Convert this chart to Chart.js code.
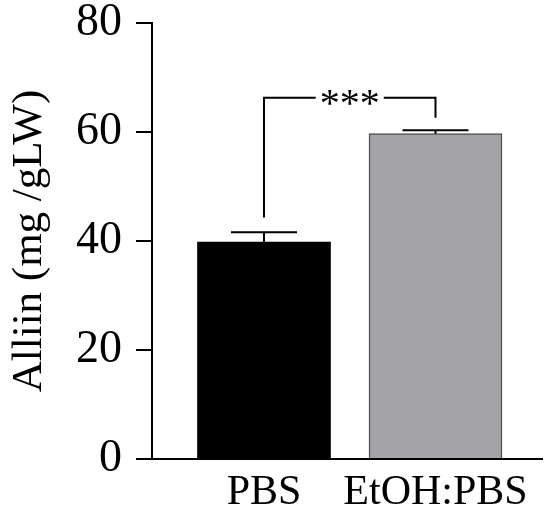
<!DOCTYPE html>
<html>
<head>
<meta charset="utf-8">
<script src="https://cdn.jsdelivr.net/npm/chart.js@4"></script>
<style>
  html, body { margin: 0; padding: 0; background: #fff; }
  #chartCanvas { display: block; }
</style>
</head>
<body>
<canvas id="chartCanvas" width="550" height="526"></canvas>
<script>
// data
const categories = ["PBS", "EtOH:PBS"];
const categoryPos = [1, 2];
const alliinMeans = [39.8, 59.7];
const alliinErrors = [1.8, 0.6];
const yTicks = [0, 20, 40, 60, 80];
const sigLabel = "***";
const sigLevels = [44.3, 66.3, 62.6]; // left foot, top line, right foot

const FONT = '"Liberation Serif", "Times New Roman", serif';

// error bars + significance bracket
const extrasPlugin = {
  id: "extras",
  afterDatasetsDraw(chart) {
    const ctx = chart.ctx;
    const x = chart.scales.x;
    const y = chart.scales.y;
    ctx.save();
    ctx.strokeStyle = "#000";
    ctx.lineWidth = 2;

    categoryPos.forEach((pos, i) => {
      const cx = x.getPixelForValue(pos);
      const top = y.getPixelForValue(alliinMeans[i]);
      const errTop = y.getPixelForValue(alliinMeans[i] + alliinErrors[i]);
      ctx.beginPath();
      ctx.moveTo(cx, top);
      ctx.lineTo(cx, errTop);
      ctx.moveTo(cx - 33, errTop);
      ctx.lineTo(cx + 33, errTop);
      ctx.stroke();
    });

    const x1 = x.getPixelForValue(categoryPos[0]);
    const x2 = x.getPixelForValue(categoryPos[1]);
    const yl = y.getPixelForValue(sigLevels[0]);
    const yt = y.getPixelForValue(sigLevels[1]);
    const yr = y.getPixelForValue(sigLevels[2]);

    ctx.font = "40px " + FONT;
    const m = ctx.measureText(sigLabel);
    const mid = (x1 + x2) / 2;
    const gapL = mid - m.width / 2 - 4;
    const gapR = mid + m.width / 2 + 4;

    ctx.beginPath();
    ctx.moveTo(x1, yl);
    ctx.lineTo(x1, yt);
    ctx.lineTo(gapL, yt);
    ctx.moveTo(gapR, yt);
    ctx.lineTo(x2, yt);
    ctx.lineTo(x2, yr);
    ctx.stroke();

    ctx.fillStyle = "#000";
    ctx.textAlign = "center";
    ctx.textBaseline = "alphabetic";
    const off = (m.actualBoundingBoxAscent - m.actualBoundingBoxDescent) / 2;
    ctx.fillText(sigLabel, mid, yt + off);
    ctx.restore();
  }
};

const ctx = document.getElementById("chartCanvas").getContext("2d");

new Chart(ctx, {
  type: "bar",
  data: {
    datasets: [{
      data: categoryPos.map((p, i) => ({ x: p, y: alliinMeans[i] })),
      backgroundColor: ["#000000", "#a4a4a7"],
      borderColor: ["#000000", "#505050"],
      borderWidth: [0, 1.5],
      barThickness: 133
    }]
  },
  options: {
    responsive: false,
    animation: false,
    devicePixelRatio: 1,
    layout: { padding: { left: 0, right: 8, top: 23, bottom: 0 } },
    plugins: {
      legend: { display: false },
      tooltip: { enabled: false }
    },
    scales: {
      x: {
        type: "linear",
        offset: false,
        min: 0.347,
        max: 2.621,
        grid: { display: false, drawTicks: false, offset: false },
        border: { display: true, color: "#000", width: 2 },
        afterBuildTicks: (scale) => {
          scale.ticks = categoryPos.map(v => ({ value: v }));
        },
        afterFit: (scale) => {
          scale.height = 67;
          scale.paddingLeft = 0;
          scale.paddingRight = 0;
        },
        ticks: {
          color: "#000",
          padding: 13,
          maxRotation: 0,
          autoSkip: false,
          font: { family: FONT, size: 42, lineHeight: 1 },
          callback: (v) => categories[categoryPos.indexOf(v)] || ""
        }
      },
      y: {
        min: 0,
        max: 80,
        afterBuildTicks: (scale) => {
          scale.ticks = yTicks.map(v => ({ value: v }));
        },
        afterFit: (scale) => {
          scale.width = 152;
          scale.paddingTop = 23;
          scale.paddingBottom = 0;
        },
        grid: {
          drawOnChartArea: false,
          drawTicks: true,
          tickLength: 16,
          color: "#000",
          lineWidth: 2
        },
        border: { display: true, color: "#000", width: 2 },
        ticks: {
          color: "#000",
          padding: 14,
          font: { family: FONT, size: 46, lineHeight: 1 }
        },
        title: {
          display: true,
          text: "Alliin (mg /gLW)",
          color: "#000",
          padding: { top: 8, bottom: 0 },
          font: { family: FONT, size: 43, lineHeight: 1 }
        }
      }
    }
  },
  plugins: [extrasPlugin]
});
</script>
</body>
</html>
